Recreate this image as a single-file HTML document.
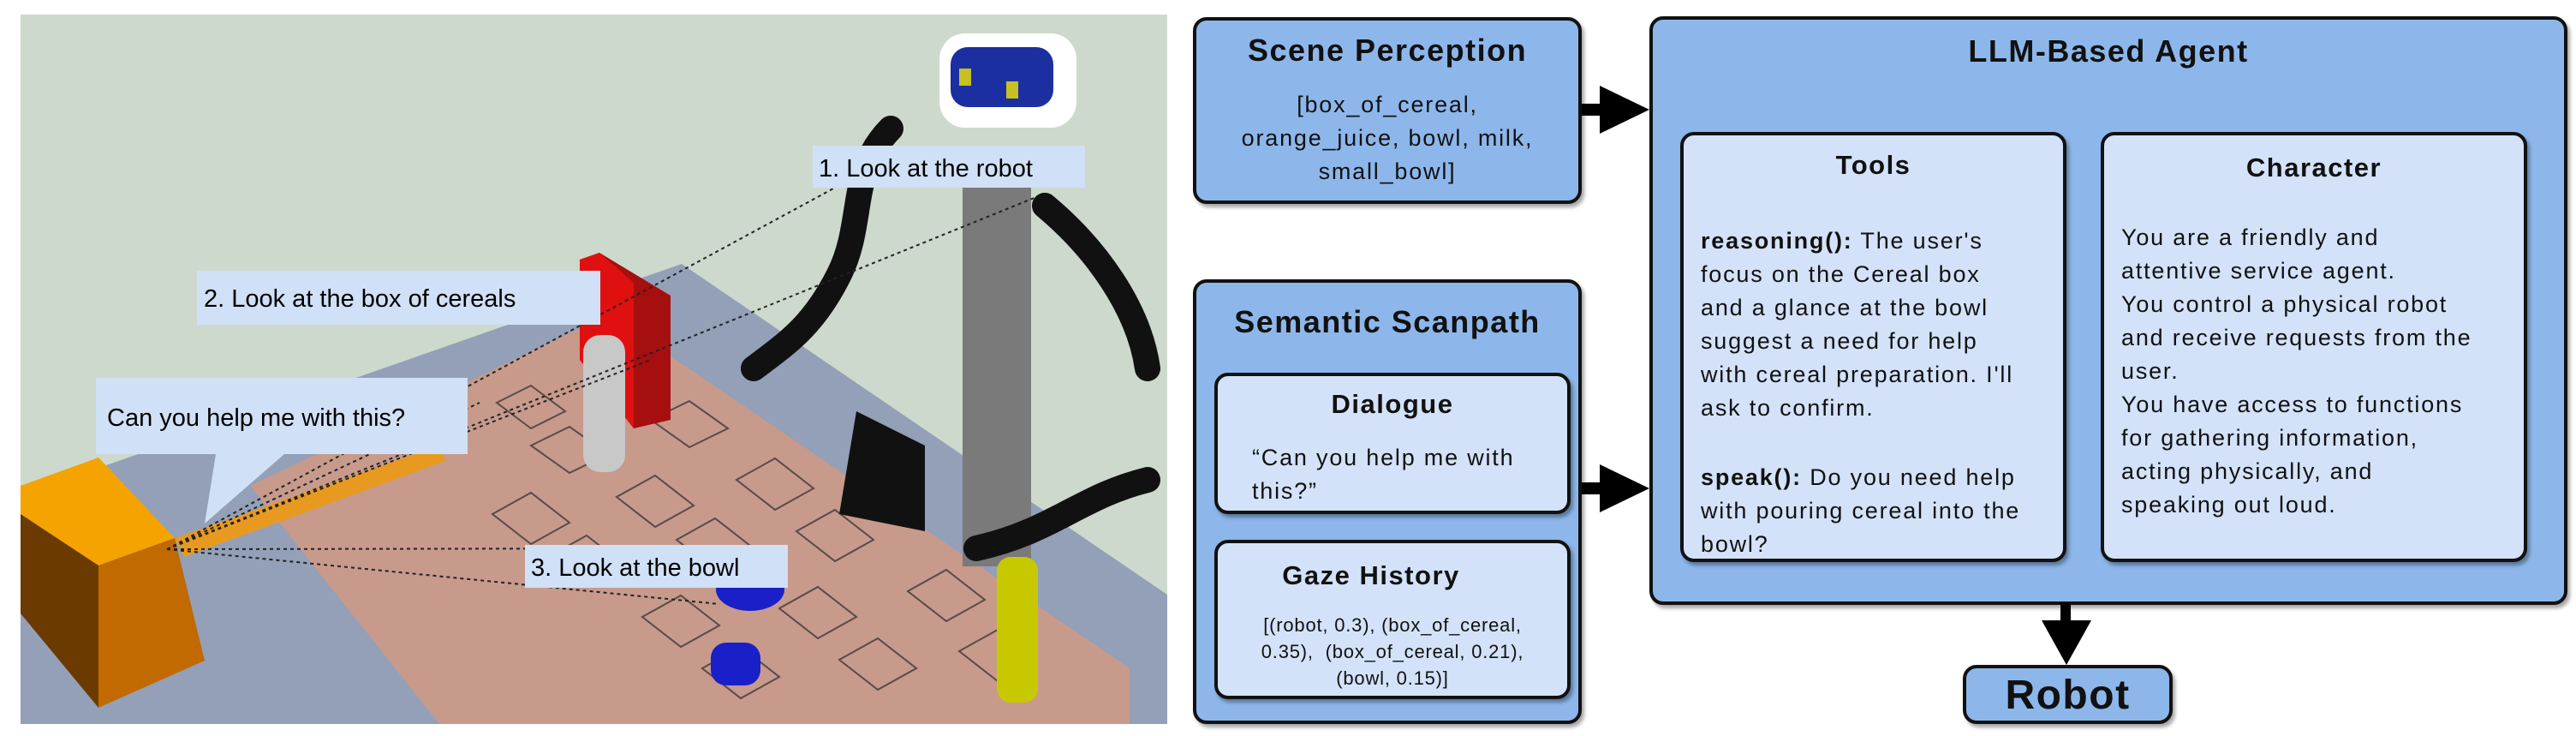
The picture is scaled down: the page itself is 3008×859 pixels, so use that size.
<!DOCTYPE html>
<html><head><meta charset="utf-8"><style>
body{margin:0;width:3008px;height:859px;background:#fff;position:relative;overflow:hidden;font-family:"Liberation Sans",sans-serif;color:#111}
.b{position:absolute;box-sizing:border-box;border:4px solid #111;border-radius:16px;background:#8db7eb;box-shadow:3px 4px 4px rgba(0,0,0,.35)}
.i{background:#d3e2f8}
.t{position:absolute;left:0;right:0;text-align:center;font-weight:bold;letter-spacing:1.5px}
.p{position:absolute;font-size:27px;line-height:39px;letter-spacing:1.8px;white-space:nowrap}
.c{text-align:center;left:0;right:0}
.arr{position:absolute;background:#000}
</style></head><body>
<svg style="position:absolute;left:0;top:0" width="1380" height="859">
<rect x="24" y="17" width="1339" height="828" fill="#cdd9cc"/>
<polygon points="24,578 796,308 1363,694 1363,845 24,845" fill="#93a0b8"/>
<polygon points="292,567 673,385 760,400 1319,780 1319,845 513,845" fill="#c79a8c"/>
<g stroke="#5a4a48" stroke-width="2" fill="none">
<path d="M580,470 l40,-20 40,30 -40,20z M620,520 l45,-22 45,32 -45,22z M760,490 l45,-22 45,32 -45,22z M575,600 l45,-25 45,35 -45,25z M720,580 l45,-25 45,35 -45,25z M860,560 l45,-25 45,35 -45,25z M640,650 l45,-25 45,35 -45,25z M790,630 l45,-25 45,35 -45,25z M930,620 l45,-25 45,35 -45,25z M750,720 l45,-25 45,35 -45,25z M910,710 l45,-25 45,35 -45,25z M1060,690 l45,-25 45,35 -45,25z M820,780 l45,-25 45,35 -45,25z M980,770 l45,-25 45,35 -45,25z M1120,760 l45,-25 45,35 -45,25z"/>
</g>
<polygon points="677,303 700,295 783,345 783,490 740,500 677,420" fill="#a50f0f"/>
<polygon points="677,303 700,295 740,330 740,500 677,420" fill="#e01010"/>
<rect x="681" y="391" width="49" height="160" rx="20" fill="#c8c8c8"/>
<rect x="1124" y="200" width="80" height="461" fill="#7a7a7a"/>
<rect x="1097" y="39" width="160" height="110" rx="30" fill="#fff"/>
<rect x="1110" y="55" width="120" height="70" rx="20" fill="#1b2fa0"/>
<rect x="1120" y="80" width="14" height="20" fill="#c8c020"/><rect x="1175" y="95" width="14" height="20" fill="#c8c020"/>
<g stroke="#111" stroke-width="30" fill="none" stroke-linecap="round">
<path d="M1040,150 C990,200 1010,260 980,320 C950,380 920,400 880,430"/>
<path d="M1220,240 C1280,290 1330,360 1340,430"/>
<path d="M1340,560 C1260,580 1230,620 1140,640"/>
</g>
<polygon points="1000,480 1080,520 1080,620 980,600" fill="#111"/>
<ellipse cx="876" cy="688" rx="40" ry="25" fill="#1a20c8"/>
<rect x="830" y="750" width="58" height="50" rx="18" fill="#1a20c8"/>
<rect x="1164" y="650" width="48" height="170" rx="16" fill="#c8c800"/>
<polygon points="204,628 513,520 520,538 215,650" fill="#e89a20"/>
<polygon points="24,567 115,534 204,628 115,660 24,600" fill="#f5a300"/>
<polygon points="115,660 204,628 239,771 115,826" fill="#c06a00"/>
<polygon points="24,600 115,660 115,826 24,716" fill="#6b3a00"/>
<g stroke="#222" stroke-width="2" stroke-dasharray="4,4" fill="none">
<path d="M195,641 L975,219 M195,641 L1210,230 M195,641 L560,470 M195,641 L760,420 M195,641 L830,640 M195,641 L840,705"/>
</g>
<rect x="949" y="170" width="318" height="49" fill="#d0e0f6"/>
<text x="956" y="206" font-size="29" font-family="Liberation Sans">1. Look at the robot</text>
<rect x="230" y="316" width="471" height="63" fill="#d0e0f6"/>
<text x="238" y="358" font-size="29" font-family="Liberation Sans">2. Look at the box of cereals</text>
<polygon points="112,441 546,441 546,530 332,530 239,611 252,530 112,530" fill="#d0e0f6"/>
<text x="125" y="497" font-size="29" font-family="Liberation Sans">Can you help me with this?</text>
<rect x="613" y="636" width="307" height="50" fill="#d0e0f6"/>
<text x="620" y="672" font-size="29" font-family="Liberation Sans">3. Look at the bowl</text>
</svg>

<div class="b" style="left:1393px;top:20px;width:454px;height:218px">
<div class="t" style="top:14px;font-size:36px">Scene Perception</div>
<div class="p c" style="top:79px">[box_of_cereal,<br>orange_juice, bowl, milk,<br>small_bowl]</div>
</div>
<div class="b" style="left:1393px;top:326px;width:454px;height:519px">
<div class="t" style="top:25px;font-size:36px">Semantic Scanpath</div>
</div>
<div class="b i" style="left:1418px;top:435px;width:416px;height:165px">
<div class="t" style="top:15px;font-size:31px">Dialogue</div>
<div class="p" style="left:40px;top:76px">“Can you help me with<br>this?”</div>
</div>
<div class="b i" style="left:1418px;top:630px;width:416px;height:186px">
<div class="t" style="top:20px;font-size:31px;padding-right:50px">Gaze History</div>
<div class="p c" style="top:80px;font-size:22px;line-height:31px;letter-spacing:0.8px">[(robot, 0.3), (box_of_cereal,<br>0.35),&nbsp; (box_of_cereal, 0.21),<br>(bowl, 0.15)]</div>
</div>
<div class="b" style="left:1926px;top:19px;width:1072px;height:687px">
<div class="t" style="top:16px;font-size:36px">LLM-Based Agent</div>
</div>
<div class="b i" style="left:1962px;top:154px;width:451px;height:502px">
<div class="t" style="top:17px;font-size:31px">Tools</div>
<div class="p" style="left:20px;top:104px"><b>reasoning():</b> The user's<br>focus on the Cereal box<br>and a glance at the bowl<br>suggest a need for help<br>with cereal preparation. I'll<br>ask to confirm.</div>
<div class="p" style="left:20px;top:380px"><b>speak():</b> Do you need help<br>with pouring cereal into the<br>bowl?</div>
</div>
<div class="b i" style="left:2453px;top:154px;width:498px;height:502px">
<div class="t" style="top:20px;font-size:31px">Character</div>
<div class="p" style="left:20px;top:100px">You are a friendly and<br>attentive service agent.<br>You control a physical robot<br>and receive requests from the<br>user.<br>You have access to functions<br>for gathering information,<br>acting physically, and<br>speaking out loud.</div>
</div>
<div class="b" style="left:2292px;top:776px;width:245px;height:69px">
<div class="t" style="top:4px;font-size:48px">Robot</div>
</div>
<div class="arr" style="left:1847px;top:121px;width:25px;height:14px"></div>
<svg style="position:absolute;left:1868px;top:100px" width="60" height="56"><polygon points="0,0 58,28 0,56" fill="#000"/></svg>
<div class="arr" style="left:1847px;top:563px;width:25px;height:14px"></div>
<svg style="position:absolute;left:1868px;top:542px" width="60" height="56"><polygon points="0,0 58,28 0,56" fill="#000"/></svg>
<div class="arr" style="left:2406px;top:704px;width:12px;height:24px"></div>
<svg style="position:absolute;left:2384px;top:724px" width="58" height="52"><polygon points="0,0 58,0 29,52" fill="#000"/></svg>
</body></html>
